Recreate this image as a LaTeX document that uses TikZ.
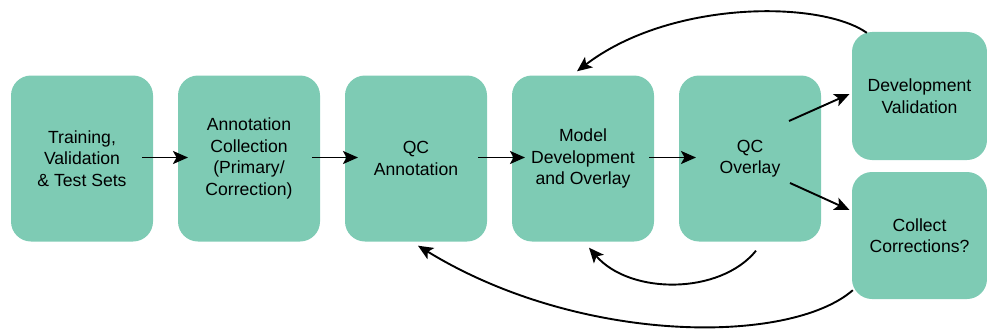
\documentclass[tikz,border=0pt]{standalone}
\usepackage{fontspec}
\setmainfont{Liberation Sans}
\usetikzlibrary{arrows.meta,calc}
\definecolor{boxgreen}{RGB}{126,203,180}
\tikzset{
  box/.style={fill=boxgreen, draw=none, rounded corners=20pt, align=center,
    minimum width=142pt, minimum height=166pt, inner sep=2pt,
    font=\fontsize{17.6}{21.5}\selectfont},
  sidebox/.style={box, minimum width=135pt, minimum height=128pt},
  conn/.style={line width=1.9pt, -{Stealth[length=15pt,width=13pt,inset=3.5pt]}},
}
\begin{document}
\begin{tikzpicture}[x=1pt,y=-1pt]
\useasboundingbox (0,0) rectangle (987,329);
\node[box] (b1) at (82,158.5) {Training,\\Validation\\\& Test Sets};
\node[box] (b2) at (249,158.5) {Annotation\\Collection\\(Primary/\\Correction)};
\node[box] (b3) at (416,158.5) {QC\\Annotation};
\node[box] (b4) at (583,158.5) {Model\\Development\\and Overlay};
\node[box] (b5) at (750,158.5) {QC\\Overlay};
\node[sidebox] (b6) at (919.5,96) {Development\\Validation};
\node[sidebox, minimum height=127pt] (b7) at (919.5,235.5) {Collect\\Corrections?};

\draw[conn] ($(b1.center)+(60,-1)$) -- ($(b2.center)+(-61,-1)$);
\draw[conn] ($(b2.center)+(63,-1)$) -- ($(b3.center)+(-58,-1)$);
\draw[conn] ($(b3.center)+(62,-1)$) -- ($(b4.center)+(-58,-1)$);
\draw[conn] ($(b4.center)+(66,-1)$) -- ($(b5.center)+(-54,-1)$);
\draw[conn] ($(b5.center)+(39,-37.5)$) -- ($(b6.center)+(-70,-2)$);
\draw[conn] ($(b5.center)+(40,24.5)$) -- ($(b7.center)+(-70,-25.5)$);

\draw[conn] ($(b6.north west)+(15,1)$) .. controls (820,0) and (670,0) .. ($(b4.north)+(-6,-4)$);
\draw[conn] ($(b5.south)+(6,9)$) .. controls (720,295) and (630,295) .. ($(b4.south)+(6,6)$);
\draw[conn] ($(b7.south west)+(1,-9)$) .. controls (790,345) and (580,345) .. ($(b3.south)+(2,4)$);
\end{tikzpicture}
\end{document}
